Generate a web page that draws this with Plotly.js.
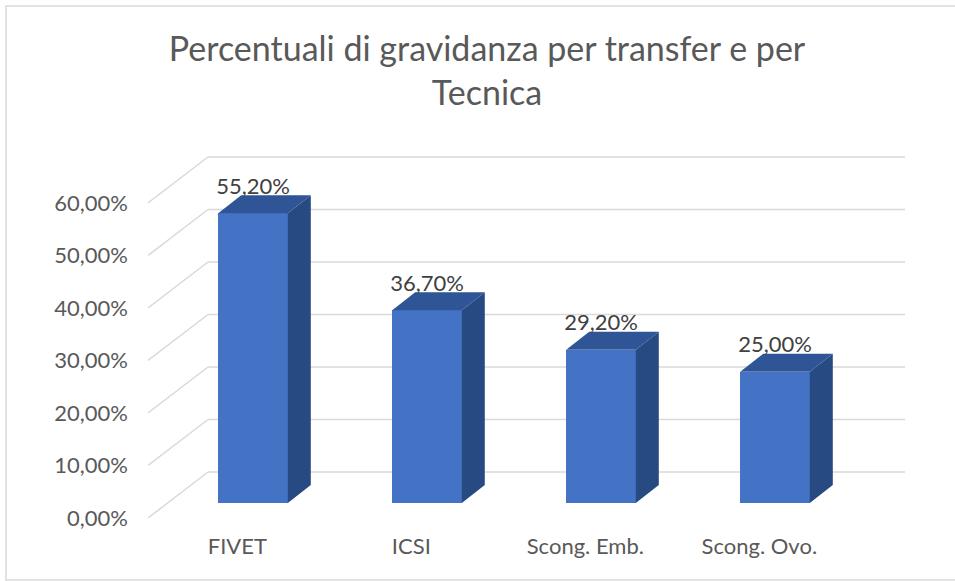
<!DOCTYPE html>
<html>
<head>
<meta charset="utf-8">
<script src="https://cdn.plot.ly/plotly-3.0.1.min.js"></script>
<style>html,body{margin:0;padding:0;background:#fff;} #chart{width:955px;height:581px;}</style>
</head>
<body>
<div id="chart"></div>
<script>
// ---- data ----
const categories = ['FIVET', 'ICSI', 'Scong. Emb.', 'Scong. Ovo.'];
const values = [0.552, 0.367, 0.292, 0.25];
const yTickVals = [0, 0.1, 0.2, 0.3, 0.4, 0.5, 0.6];
const titleText = 'Percentuali di gravidanza per transfer e per<br>Tecnica';

// ---- geometry / style (pseudo-3D oblique projection) ----
const W = 955, H = 581;
const PX_PER_CAT = 174, PX_PER_UNIT = 525;
const BAR_W = 0.40;
const FRONT_BASE = 15 / PX_PER_UNIT;           // bar front plane offset
const DEPTH_DX = 23 / PX_PER_CAT, DEPTH_DY = 18 / PX_PER_UNIT; // bar depth
const WALL_DX = 60 / PX_PER_CAT, WALL_DY = 46 / PX_PER_UNIT;   // back wall depth
const X_MIN = (148 - 253) / PX_PER_CAT, X_MAX = (905 - 253) / PX_PER_CAT;
const LABEL_SHIFT = -0.09;
const FONT = 'Lato, "Open Sans", sans-serif';
const C_FRONT = '#4472C4', C_TOP = '#2F5597', C_SIDE = '#284A82';
const C_GRID = '#D9D9D9', C_TEXT = '#595959';

const xs = categories.map((c, i) => i);

// side faces and top faces
const sideX = [], sideY = [], topX = [], topY = [];
values.forEach((v, i) => {
  const xl = i - BAR_W / 2, xr = i + BAR_W / 2;
  const b = FRONT_BASE, t = FRONT_BASE + v;
  sideX.push(xr, xr + DEPTH_DX, xr + DEPTH_DX, xr, xr, null);
  sideY.push(b, b + DEPTH_DY, t + DEPTH_DY, t, b, null);
  topX.push(xl, xr, xr + DEPTH_DX, xl + DEPTH_DX, xl, null);
  topY.push(t, t, t + DEPTH_DY, t + DEPTH_DY, t, null);
});

const traces = [
  {
    type: 'bar', x: xs, y: values, base: values.map(() => FRONT_BASE),
    width: BAR_W, marker: {color: C_FRONT, line: {width: 0}},
    hoverinfo: 'skip', showlegend: false
  },
  {
    type: 'scatter', mode: 'lines', x: sideX, y: sideY, fill: 'toself',
    fillcolor: C_SIDE, line: {width: 0, color: C_SIDE}, hoverinfo: 'skip', showlegend: false
  },
  {
    type: 'scatter', mode: 'lines', x: topX, y: topY, fill: 'toself',
    fillcolor: C_TOP, line: {width: 0, color: C_TOP}, hoverinfo: 'skip', showlegend: false
  },
  {
    type: 'scatter', mode: 'text', x: xs,
    y: values.map(v => FRONT_BASE + v + 25 / PX_PER_UNIT),
    text: values.map(v => (v * 100).toFixed(2).replace('.', ',') + '%'),
    textposition: 'middle center', cliponaxis: false,
    textfont: {family: FONT, size: 22, color: '#404040'},
    hoverinfo: 'skip', showlegend: false
  }
];

const shapes = [];
yTickVals.forEach(t => {
  shapes.push({type: 'line', layer: 'below', xref: 'x', yref: 'y',
    x0: X_MIN, y0: t, x1: X_MIN + WALL_DX, y1: t + WALL_DY,
    line: {color: C_GRID, width: 1.5}});
  shapes.push({type: 'line', layer: 'below', xref: 'x', yref: 'y',
    x0: X_MIN + WALL_DX, y0: t + WALL_DY, x1: X_MAX, y1: t + WALL_DY,
    line: {color: C_GRID, width: 1.5}});
});
shapes.push({type: 'rect', layer: 'below', xref: 'paper', yref: 'paper',
  x0: 6 / W, x1: 1.02, y0: 1 / H, y1: 1 - 6 / H,
  line: {color: C_GRID, width: 1.5}, fillcolor: 'rgba(0,0,0,0)'});

const layout = {
  width: W, height: H,
  margin: {l: 0, r: 0, t: 0, b: 0},
  paper_bgcolor: '#fff', plot_bgcolor: 'rgba(0,0,0,0)',
  separators: ',.',
  font: {family: FONT, color: C_TEXT},
  title: {
    text: titleText, x: 487 / W, xanchor: 'center', xref: 'paper',
    y: 1 - 61 / H, yanchor: 'top', yref: 'container',
    font: {family: FONT, size: 34, color: C_TEXT}
  },
  xaxis: {
    domain: [148 / W, 905 / W], range: [X_MIN, X_MAX],
    tickmode: 'array', tickvals: xs.map(i => i + LABEL_SHIFT), ticktext: categories,
    showgrid: false, zeroline: false, showline: false, ticks: '',
    ticklabelstandoff: 13,
    tickfont: {family: FONT, size: 22, color: C_TEXT}, fixedrange: true
  },
  yaxis: {
    domain: [(H - 518) / H, (H - 140) / H], range: [0, 378 / PX_PER_UNIT],
    tickmode: 'array', tickvals: yTickVals, tickformat: '.2%',
    showgrid: false, zeroline: false, showline: false, ticks: '',
    ticklabelstandoff: 19,
    tickfont: {family: FONT, size: 22, color: C_TEXT}, fixedrange: true
  },
  shapes: shapes,
  bargap: 0
};

Plotly.newPlot('chart', traces, layout, {displayModeBar: false, staticPlot: true});
</script>
</body>
</html>
